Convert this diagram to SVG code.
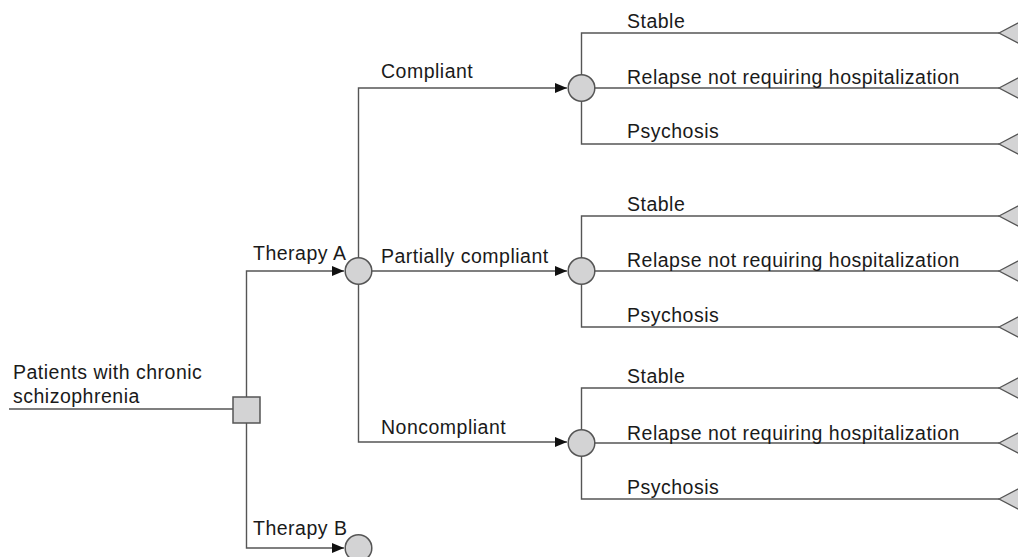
<svg xmlns="http://www.w3.org/2000/svg" width="1018" height="557" viewBox="0 0 1018 557">
<style>
.ln{fill:none;stroke:#555;stroke-width:1.4}
.ch{fill:#d3d3d4;stroke:#555;stroke-width:1.5}
.tr{fill:#d3d3d4;stroke:#555;stroke-width:1.3}
text{font-family:"Liberation Sans",Arial,sans-serif;font-size:19.5px;fill:#1a1a1a;letter-spacing:0.5px}
</style>
<defs>
<marker id="ah" viewBox="0 0 12 10" refX="12" refY="5" markerWidth="12" markerHeight="10" markerUnits="userSpaceOnUse" orient="auto">
<path d="M0,0 L12,5 L0,10 Z" fill="#111"/>
</marker>
<polygon id="term" points="0,0 32,-17 32,17"/>
</defs>
<rect width="1018" height="557" fill="#fff"/>
<g id="connectors">
<path class="ln" d="M9,409 H233"/>
<path class="ln" d="M246.5,397 V271 H344" marker-end="url(#ah)"/>
<path class="ln" d="M246.5,423 V548 H344" marker-end="url(#ah)"/>
<path class="ln" d="M358.5,258 V88 H567" marker-end="url(#ah)"/>
<path class="ln" d="M372,271 H567" marker-end="url(#ah)"/>
<path class="ln" d="M358.5,284 V442 H567" marker-end="url(#ah)"/>
<path class="ln" d="M581.5,75 V33 H999 M595,88 H999 M581.5,101 V144 H999"/>
<path class="ln" d="M581.5,258 V216 H999 M595,271 H999 M581.5,284 V327 H999"/>
<path class="ln" d="M581.5,430 V388 H999 M595,443 H999 M581.5,456 V499 H999"/>
</g>
<g id="start">
<text x="13" y="379">Patients with chronic</text>
<text x="13" y="403">schizophrenia</text>
</g>
<g id="decision"><rect class="ch" x="233" y="397" width="27" height="26"/></g>
<g id="therapyA">
<circle class="ch" cx="358.5" cy="271" r="13.3"/>
<text x="253" y="260">Therapy A</text>
</g>
<g id="therapyB">
<circle class="ch" cx="358.5" cy="548" r="13.3"/>
<text x="253" y="535">Therapy B</text>
</g>
<g id="compliant">
<text x="381" y="78">Compliant</text>
<circle class="ch" cx="581.5" cy="88" r="13.3"/>
<text x="627" y="28">Stable</text>
<text x="627" y="84">Relapse not requiring hospitalization</text>
<text x="627" y="138">Psychosis</text>
<use href="#term" class="tr" x="999" y="33"/>
<use href="#term" class="tr" x="999" y="88"/>
<use href="#term" class="tr" x="999" y="144"/>
</g>
<g id="partial">
<text x="381" y="263">Partially compliant</text>
<circle class="ch" cx="581.5" cy="271" r="13.3"/>
<text x="627" y="211">Stable</text>
<text x="627" y="267">Relapse not requiring hospitalization</text>
<text x="627" y="322">Psychosis</text>
<use href="#term" class="tr" x="999" y="216"/>
<use href="#term" class="tr" x="999" y="271"/>
<use href="#term" class="tr" x="999" y="327"/>
</g>
<g id="noncompliant">
<text x="381" y="434">Noncompliant</text>
<circle class="ch" cx="581.5" cy="443" r="13.3"/>
<text x="627" y="383">Stable</text>
<text x="627" y="440">Relapse not requiring hospitalization</text>
<text x="627" y="494">Psychosis</text>
<use href="#term" class="tr" x="999" y="388"/>
<use href="#term" class="tr" x="999" y="443"/>
<use href="#term" class="tr" x="999" y="499"/>
</g>
</svg>
